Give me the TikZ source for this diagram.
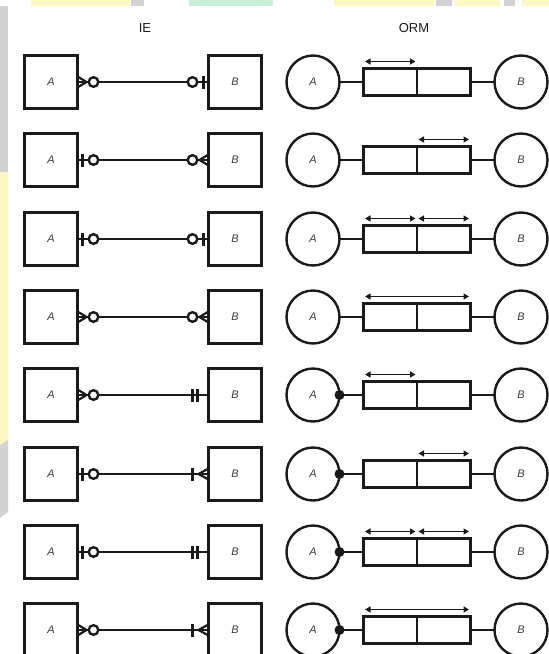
\documentclass[tikz,border=0pt]{standalone}
\usepackage{fontspec}
\setmainfont{Liberation Sans}
\usetikzlibrary{arrows.meta, positioning}
\definecolor{cink}{HTML}{1A1A1A}
\definecolor{clabel}{HTML}{3C3C3C}
\definecolor{cyellow}{HTML}{FFF7C2}
\definecolor{cmint}{HTML}{C9F1D9}
\definecolor{cshade}{HTML}{D2D2D2}
\tikzset{
  every picture/.style={line width=2.4pt, draw=cink},
  ent/.style={draw=cink, line width=2.4pt, minimum size=53pt, inner sep=0pt, outer sep=0pt, text=clabel, font=\itshape\fontsize{11}{13}\selectfont},
  obj/.style={circle, draw=cink, line width=2.4pt, minimum size=53pt, inner sep=0pt, outer sep=0pt, text=clabel, font=\itshape\fontsize{11}{13}\selectfont},
  cell/.style={draw=cink, line width=2.4pt, minimum width=53.5pt, minimum height=27pt, inner sep=0pt, outer sep=0pt},
  link/.style={draw=cink, line width=2.4pt},
  uc/.style={{Triangle[length=5.5pt, width=6pt]}-{Triangle[length=5.5pt, width=6pt]}, draw=cink, line width=1.4pt, shorten <=1.5pt, shorten >=1.5pt},
  title/.style={text=cink, font=\fontsize{13}{15}\selectfont},
  % IE line ends, drawn pointing away from the box edge
  zeromany/.pic={\draw[line width=2.2pt] (0,5.5) -- (9,0) -- (0,-5.5); \draw[fill=white] (16,0) circle (4.8pt);},
  zeroone/.pic={\draw (5,6.5) -- (5,-6.5); \draw[fill=white] (16,0) circle (4.8pt);},
  onlyone/.pic={\draw (11,6.5) -- (11,-6.5) (16,6.5) -- (16,-6.5);},
  onemany/.pic={\draw[line width=2.2pt] (0,5.5) -- (10,0) -- (0,-5.5); \draw (16,6.5) -- (16,-6.5);},
}

\begin{document}
\begin{tikzpicture}[x=1pt, y=-1pt]
  \useasboundingbox (0,0) rectangle (549,654);
  % backdrop strips along the top and left edges
  \fill[white] (0,0) rectangle (549,654);
  \fill[cyellow] (31,0) rectangle (130,6); \fill[cshade] (131,0) rectangle (144,6);
  \fill[cmint] (189,0) rectangle (273,6);
  \fill[cyellow] (334,0) rectangle (434,6); \fill[cshade] (436,0) rectangle (452,6);
  \fill[cyellow] (455,0) rectangle (500,6); \fill[cshade] (504,0) rectangle (515,6);
  \fill[cyellow] (522,0) rectangle (549,6);
  \fill[cshade] (0,6) rectangle (8,172); \fill[cyellow] (0,172) rectangle (8,445);
  \fill[cshade] (0,445) -- (8,440) -- (8,512) -- (0,518) -- cycle;

  \node[title] (ie) at (145,28) {IE};
  \node[title] (orm) at (414,28) {ORM};

  % row 1
  \node[ent] (a1) at (51,82) {A}; \node[ent] (b1) at (235,82) {B};
  \draw[link] (a1) -- (b1);
  \pic at (a1.east) {zeromany}; \pic[xscale=-1] at (b1.west) {zeroone};
  \node[obj] (ca1) at (313,82) {A}; \node[obj] (cb1) at (521,82) {B};
  \node[cell, anchor=east] (l1) at (417,82) {}; \node[cell, anchor=west] (r1) at (417,82) {};
  \draw[link] (ca1) -- (l1); \draw[link] (r1) -- (cb1);
  \draw[uc] ([yshift=7pt]l1.north west) -- ([yshift=7pt]l1.north east);

  % row 2
  \node[ent] (a2) at (51,160) {A}; \node[ent] (b2) at (235,160) {B};
  \draw[link] (a2) -- (b2);
  \pic at (a2.east) {zeroone}; \pic[xscale=-1] at (b2.west) {zeromany};
  \node[obj] (ca2) at (313,160) {A}; \node[obj] (cb2) at (521,160) {B};
  \node[cell, anchor=east] (l2) at (417,160) {}; \node[cell, anchor=west] (r2) at (417,160) {};
  \draw[link] (ca2) -- (l2); \draw[link] (r2) -- (cb2);
  \draw[uc] ([yshift=7pt]r2.north west) -- ([yshift=7pt]r2.north east);

  % row 3
  \node[ent] (a3) at (51,239) {A}; \node[ent] (b3) at (235,239) {B};
  \draw[link] (a3) -- (b3);
  \pic at (a3.east) {zeroone}; \pic[xscale=-1] at (b3.west) {zeroone};
  \node[obj] (ca3) at (313,239) {A}; \node[obj] (cb3) at (521,239) {B};
  \node[cell, anchor=east] (l3) at (417,239) {}; \node[cell, anchor=west] (r3) at (417,239) {};
  \draw[link] (ca3) -- (l3); \draw[link] (r3) -- (cb3);
  \draw[uc] ([yshift=7pt]l3.north west) -- ([yshift=7pt]l3.north east);
  \draw[uc] ([yshift=7pt]r3.north west) -- ([yshift=7pt]r3.north east);

  % row 4
  \node[ent] (a4) at (51,317) {A}; \node[ent] (b4) at (235,317) {B};
  \draw[link] (a4) -- (b4);
  \pic at (a4.east) {zeromany}; \pic[xscale=-1] at (b4.west) {zeromany};
  \node[obj] (ca4) at (313,317) {A}; \node[obj] (cb4) at (521,317) {B};
  \node[cell, anchor=east] (l4) at (417,317) {}; \node[cell, anchor=west] (r4) at (417,317) {};
  \draw[link] (ca4) -- (l4); \draw[link] (r4) -- (cb4);
  \draw[uc] ([yshift=7pt]l4.north west) -- ([yshift=7pt]r4.north east);

  % row 5
  \node[ent] (a5) at (51,395) {A}; \node[ent] (b5) at (235,395) {B};
  \draw[link] (a5) -- (b5);
  \pic at (a5.east) {zeromany}; \pic[xscale=-1] at (b5.west) {onlyone};
  \node[obj] (ca5) at (313,395) {A}; \node[obj] (cb5) at (521,395) {B};
  \node[cell, anchor=east] (l5) at (417,395) {}; \node[cell, anchor=west] (r5) at (417,395) {};
  \draw[link] (ca5) -- (l5); \draw[link] (r5) -- (cb5);
  \fill[cink] (ca5.east) circle (5pt);
  \draw[uc] ([yshift=7pt]l5.north west) -- ([yshift=7pt]l5.north east);

  % row 6
  \node[ent] (a6) at (51,474) {A}; \node[ent] (b6) at (235,474) {B};
  \draw[link] (a6) -- (b6);
  \pic at (a6.east) {zeroone}; \pic[xscale=-1] at (b6.west) {onemany};
  \node[obj] (ca6) at (313,474) {A}; \node[obj] (cb6) at (521,474) {B};
  \node[cell, anchor=east] (l6) at (417,474) {}; \node[cell, anchor=west] (r6) at (417,474) {};
  \draw[link] (ca6) -- (l6); \draw[link] (r6) -- (cb6);
  \fill[cink] (ca6.east) circle (5pt);
  \draw[uc] ([yshift=7pt]r6.north west) -- ([yshift=7pt]r6.north east);

  % row 7
  \node[ent] (a7) at (51,552) {A}; \node[ent] (b7) at (235,552) {B};
  \draw[link] (a7) -- (b7);
  \pic at (a7.east) {zeroone}; \pic[xscale=-1] at (b7.west) {onlyone};
  \node[obj] (ca7) at (313,552) {A}; \node[obj] (cb7) at (521,552) {B};
  \node[cell, anchor=east] (l7) at (417,552) {}; \node[cell, anchor=west] (r7) at (417,552) {};
  \draw[link] (ca7) -- (l7); \draw[link] (r7) -- (cb7);
  \fill[cink] (ca7.east) circle (5pt);
  \draw[uc] ([yshift=7pt]l7.north west) -- ([yshift=7pt]l7.north east);
  \draw[uc] ([yshift=7pt]r7.north west) -- ([yshift=7pt]r7.north east);

  % row 8
  \node[ent] (a8) at (51,630) {A}; \node[ent] (b8) at (235,630) {B};
  \draw[link] (a8) -- (b8);
  \pic at (a8.east) {zeromany}; \pic[xscale=-1] at (b8.west) {onemany};
  \node[obj] (ca8) at (313,630) {A}; \node[obj] (cb8) at (521,630) {B};
  \node[cell, anchor=east] (l8) at (417,630) {}; \node[cell, anchor=west] (r8) at (417,630) {};
  \draw[link] (ca8) -- (l8); \draw[link] (r8) -- (cb8);
  \fill[cink] (ca8.east) circle (5pt);
  \draw[uc] ([yshift=7pt]l8.north west) -- ([yshift=7pt]r8.north east);
\end{tikzpicture}
\end{document}
